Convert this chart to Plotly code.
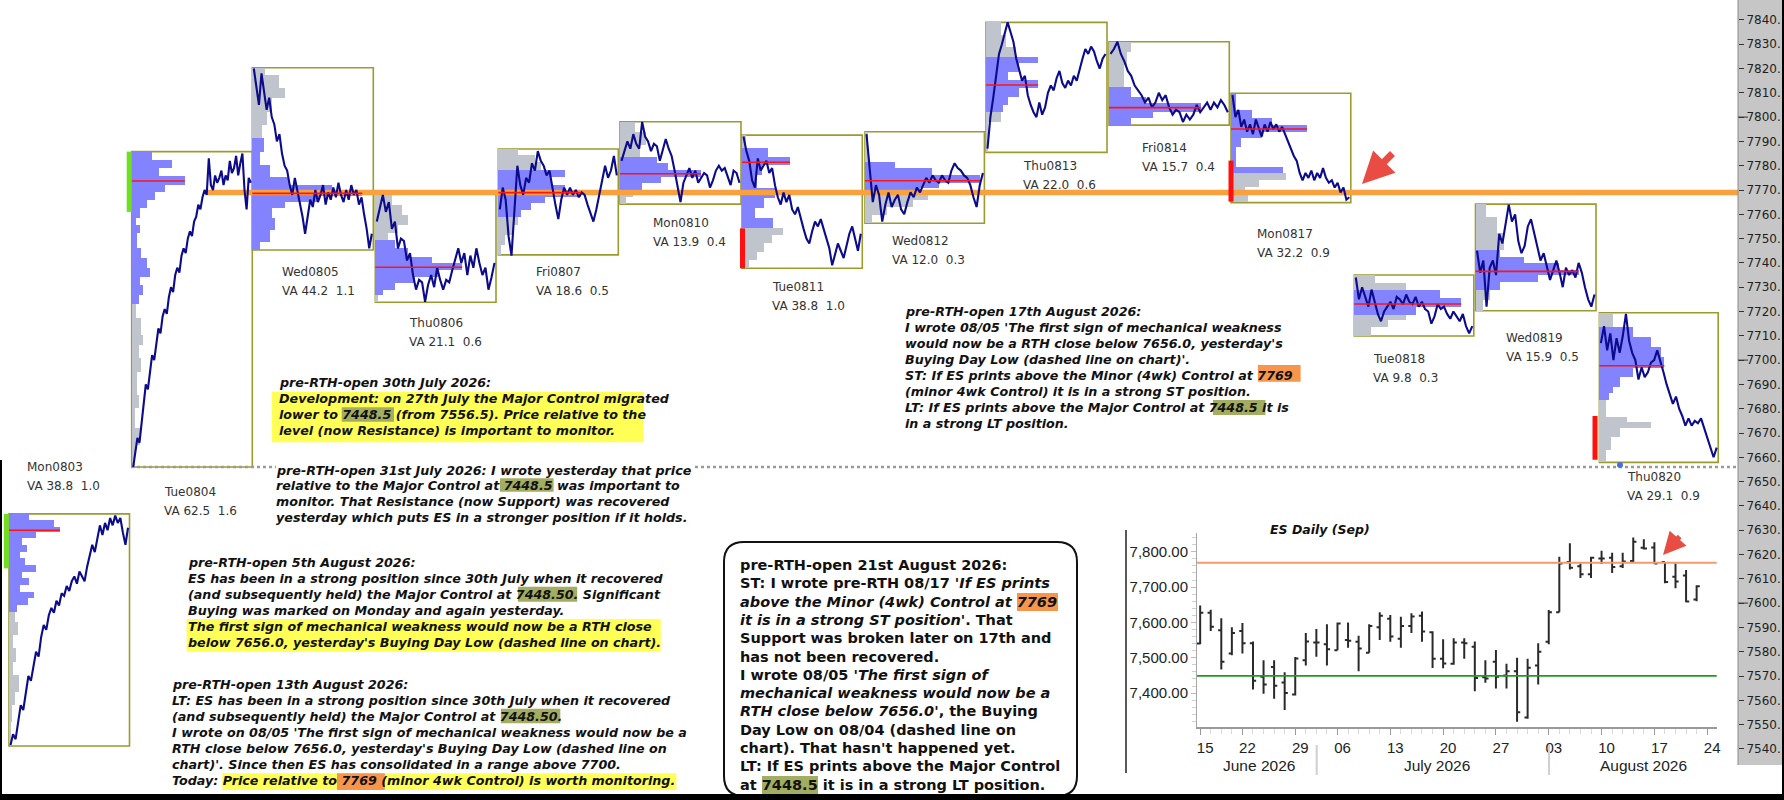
import numpy as np
import plotly.graph_objects as go

W, H = 1784, 800
PLOT_R = 1738


def px(x):
    return x / W


def py(y):
    return 1 - y / H


# ---------------------------------------------------------------- data
sessions = ["Mon0803", "Tue0804", "Wed0805", "Thu0806", "Fri0807", "Mon0810", "Tue0811",
            "Wed0812", "Thu0813", "Fri0814", "Mon0817", "Tue0818", "Wed0819", "Thu0820"]
va_stats = ["VA 38.8  1.0", "VA 62.5  1.6", "VA 44.2  1.1", "VA 21.1  0.6", "VA 18.6  0.5",
            "VA 13.9  0.4", "VA 38.8  1.0", "VA 12.0  0.3", "VA 22.0  0.6", "VA 15.7  0.4",
            "VA 32.2  0.9", "VA 9.8  0.3", "VA 15.9  0.5", "VA 29.1  0.9"]
session_high = [7636.7, 7785.8, 7820.3, 7768.6, 7786.9, 7798.1, 7792.6, 7794.0, 7839.0, 7831.0,
                7809.8, 7735.0, 7764.2, 7719.5]
session_low = [7541.2, 7656.0, 7745.3, 7723.8, 7743.3, 7764.2, 7737.8, 7756.3, 7785.5, 7796.7,
               7764.8, 7709.9, 7720.3, 7657.9]
poc_price = [7630.0, 7773.7, 7768.6, 7738.2, 7768.9, 7776.7, 7781.4, 7773.8, 7813.2, 7803.9,
             7795.1, 7723.1, 7736.5, 7697.7]
va_low = [7597.5, 7723.4, 7745.3, 7726.5, 7759.0, 7770.0, 7754.2, 7768.6, 7802.2, 7796.7,
          7776.9, 7718.6, 7728.9, 7683.6]
va_high = [7636.7, 7785.8, 7791.3, 7749.4, 7778.2, 7783.7, 7787.1, 7781.6, 7824.9, 7812.5,
           7809.8, 7728.9, 7745.3, 7713.8]

price_0803 = [7541.6, 7546, 7544, 7552, 7558, 7556, 7563, 7570, 7568, 7575, 7580, 7578, 7586, 7591,
              7589, 7595, 7598, 7596, 7601, 7599, 7604, 7603, 7607, 7605, 7609, 7611, 7608, 7613,
              7611, 7609, 7615, 7620, 7624, 7621, 7627, 7632, 7628, 7633, 7630, 7635, 7632, 7636,
              7633, 7635, 7629, 7624, 7631]
price_0804 = [7656, 7662, 7668, 7666, 7675, 7683, 7690, 7688, 7695, 7702, 7700, 7707, 7713, 7711,
              7718, 7721, 7719, 7726, 7730, 7728, 7735, 7738, 7736, 7743, 7746, 7744, 7750, 7753,
              7751, 7757, 7759, 7764, 7762, 7767, 7770, 7768, 7783, 7772, 7770, 7776, 7773, 7775,
              7778, 7772, 7776, 7774, 7782, 7777, 7779, 7784, 7776, 7781, 7785, 7770, 7762, 7775,
              7773]
price_0805 = [7820, 7812, 7805, 7818, 7810, 7803, 7808, 7800, 7797, 7790, 7793, 7785, 7780, 7778,
              7772, 7768, 7775, 7770, 7765, 7759, 7752, 7760, 7766, 7763, 7770, 7765, 7768, 7772,
              7764, 7769, 7766, 7771, 7767, 7773, 7768, 7765, 7770, 7766, 7772, 7768, 7770, 7764,
              7767, 7760, 7754, 7746, 7752]
price_0806 = [7757, 7762, 7768, 7761, 7765, 7754, 7757, 7746, 7750, 7749, 7741, 7744, 7735, 7729,
              7733, 7732, 7724, 7731, 7735, 7730, 7738, 7733, 7729, 7733, 7732, 7737, 7741, 7746,
              7740, 7744, 7735, 7743, 7738, 7746, 7740, 7735, 7738, 7729, 7734, 7740]
price_0807 = [7762, 7771, 7766, 7751, 7743, 7760, 7780, 7772, 7768, 7775, 7773, 7781, 7778, 7786,
              7782, 7780, 7776, 7778, 7770, 7764, 7758, 7766, 7771, 7768, 7771, 7768, 7770, 7767,
              7769, 7768, 7764, 7760, 7757, 7762, 7768, 7775, 7780, 7775, 7778, 7784, 7776]
price_0810 = [7782, 7786, 7790, 7787, 7793, 7789, 7787, 7798, 7792, 7790, 7786, 7789, 7788, 7782,
              7786, 7791, 7787, 7784, 7778, 7772, 7765, 7773, 7776, 7779, 7775, 7778, 7773, 7775,
              7777, 7776, 7771, 7774, 7778, 7780, 7778, 7779, 7775, 7772, 7778, 7777, 7773]
price_0811 = [7792, 7786, 7782, 7774, 7771, 7783, 7778, 7780, 7782, 7777, 7779, 7772, 7767, 7764,
              7769, 7765, 7768, 7762, 7760, 7763, 7758, 7754, 7750, 7748, 7753, 7757, 7755, 7758,
              7754, 7750, 7746, 7739, 7744, 7748, 7745, 7742, 7747, 7752, 7755, 7750, 7745, 7752]
price_0812 = [7793, 7778, 7765, 7772, 7768, 7757, 7764, 7769, 7763, 7766, 7768, 7762, 7760, 7765,
              7769, 7767, 7771, 7769, 7772, 7775, 7773, 7776, 7774, 7773, 7776, 7774, 7773, 7778,
              7781, 7779, 7778, 7776, 7775, 7772, 7767, 7763, 7772, 7777]
price_0813 = [7787, 7800, 7808, 7818, 7826, 7830, 7834, 7839, 7835, 7831, 7824, 7820, 7815, 7817,
              7809, 7805, 7802, 7800, 7806, 7801, 7804, 7810, 7813, 7811, 7816, 7819, 7814, 7812,
              7815, 7813, 7817, 7815, 7820, 7824, 7828, 7826, 7829, 7827, 7823, 7820, 7824, 7826]
price_0814 = [7826, 7828, 7831, 7826, 7823, 7819, 7817, 7813, 7811, 7809, 7806, 7808, 7804, 7806,
              7810, 7807, 7809, 7804, 7801, 7803, 7802, 7798, 7801, 7799, 7801, 7805, 7802, 7804,
              7806, 7803, 7806, 7804, 7807, 7805, 7802]
price_0817 = [7809, 7800, 7803, 7796, 7799, 7794, 7797, 7793, 7799, 7795, 7792, 7797, 7794, 7798,
              7795, 7797, 7794, 7796, 7793, 7790, 7787, 7784, 7782, 7777, 7774, 7777, 7775, 7778,
              7774, 7777, 7775, 7779, 7775, 7773, 7774, 7771, 7773, 7769, 7771, 7766, 7767]
price_0818 = [7734, 7725, 7730, 7726, 7722, 7729, 7724, 7719, 7716, 7720, 7722, 7724, 7721, 7726,
              7725, 7723, 7727, 7724, 7723, 7726, 7722, 7724, 7721, 7720, 7715, 7718, 7723, 7721,
              7722, 7719, 7717, 7720, 7718, 7716, 7719, 7714, 7711, 7714]
price_0819 = [7745, 7736, 7741, 7722, 7738, 7741, 7735, 7752, 7748, 7756, 7764, 7757, 7760, 7749,
              7744, 7747, 7755, 7758, 7752, 7747, 7741, 7744, 7738, 7733, 7737, 7741, 7736, 7730,
              7738, 7735, 7737, 7734, 7740, 7736, 7730, 7725, 7722, 7727]
price_0820 = [7707, 7714, 7704, 7711, 7700, 7709, 7703, 7710, 7719, 7708, 7703, 7700, 7692, 7697,
              7693, 7695, 7699, 7700, 7704, 7700, 7695, 7690, 7686, 7682, 7685, 7680, 7677, 7673,
              7676, 7673, 7675, 7674, 7676, 7672, 7669, 7665, 7660, 7664]
intraday = [price_0803, price_0804, price_0805, price_0806, price_0807, price_0810, price_0811,
            price_0812, price_0813, price_0814, price_0817, price_0818, price_0819, price_0820]

# volume profiles: price bin edges (ascending) and volume per bin
edges_0803 = [7541.6, 7551.2, 7558.1, 7563.6, 7570.4, 7575.9, 7581.4, 7586.9, 7592.4, 7596.5, 7599.2,
              7602.0, 7604.7, 7607.5, 7610.2, 7612.9, 7615.7, 7618.4, 7621.2, 7623.9, 7626.7, 7629.1,
              7631.5, 7634.2, 7636.7]
vol_0803 = [1.5, 3, 6, 10, 4, 7, 4, 9, 6, 8, 19, 25, 11, 20, 13, 27, 16, 11, 18, 13, 27, 51, 45, 20]
edges_0804 = [7656.0, 7665.1, 7671.9, 7680.2, 7685.6, 7695.2, 7700.7, 7706.2, 7710.3, 7717.2, 7722.9,
              7726.8, 7730.9, 7734.3, 7737.8, 7741.9, 7746.0, 7752.2, 7755.6, 7758.4, 7762.5, 7765.9,
              7769.3, 7772.1, 7775.9, 7778.9, 7782.4, 7785.8]
vol_0804 = [3, 8, 3, 7, 5, 9, 7, 11, 9, 4, 7, 11, 8, 18, 15, 9, 5, 8, 4, 8, 15, 23, 33, 53, 27, 40, 20]
edges_0805 = [7745.3, 7748.8, 7753.6, 7758.4, 7762.5, 7765.2, 7767.7, 7770.0, 7772.1, 7775.5, 7780.3,
              7785.8, 7791.3, 7796.8, 7802.2, 7807.7, 7811.9, 7817.3, 7820.3]
vol_0805 = [8, 18, 23, 20, 33, 67, 110, 80, 37, 18, 8, 12, 10, 15, 20, 33, 27, 13]
edges_0806 = [7723.8, 7726.8, 7728.8, 7731.6, 7734.3, 7737.1, 7739.8, 7742.6, 7746.0, 7749.4, 7752.2,
              7755.6, 7759.7, 7763.8, 7768.6]
vol_0806 = [3, 8, 20, 40, 63, 87, 57, 33, 20, 13, 23, 33, 27, 17]
edges_0807 = [7743.3, 7747.4, 7751.5, 7755.6, 7759.0, 7761.8, 7764.5, 7767.3, 7770.0, 7772.1, 7775.5,
              7778.2, 7781.7, 7784.4, 7786.9]
vol_0807 = [3, 7, 15, 20, 23, 33, 47, 83, 67, 53, 67, 43, 37, 20]
edges_0810 = [7764.2, 7767.3, 7770.0, 7772.7, 7775.5, 7778.2, 7781.0, 7783.7, 7788.5, 7794.0, 7798.1]
vol_0810 = [6, 13, 22, 41, 81, 48, 37, 20, 26, 15]
edges_0811 = [7737.8, 7741.2, 7744.6, 7748.1, 7751.5, 7754.2, 7758.4, 7762.5, 7766.6, 7770.7, 7776.2,
              7780.3, 7783.7, 7787.1, 7792.6]
vol_0811 = [7, 15, 22, 30, 41, 31, 13, 22, 33, 15, 20, 48, 26, 4]
edges_0812 = [7756.3, 7759.7, 7763.1, 7765.9, 7768.6, 7770.7, 7772.7, 7776.2, 7778.9, 7781.6, 7794.0]
vol_0812 = [7, 22, 48, 63, 55, 74, 115, 67, 30, 3]
edges_0813 = [7785.5, 7798.1, 7802.2, 7805.0, 7808.4, 7811.8, 7815.3, 7818.7, 7822.1, 7824.9, 7829.0,
              7833.8, 7839.0]
vol_0813 = [1.5, 15, 17, 22, 33, 52, 22, 33, 52, 30, 20, 15]
edges_0814 = [7796.7, 7799.5, 7802.2, 7805.7, 7808.4, 7812.5, 7821.4, 7826.9, 7831.0]
vol_0814 = [22, 44, 92, 37, 22, 15, 18, 22]
edges_0817 = [7765.2, 7768.6, 7771.4, 7774.1, 7776.9, 7779.6, 7787.8, 7791.3, 7794.0, 7796.8, 7799.5,
              7802.9, 7809.8]
vol_0817 = [17, 14, 28, 55, 52, 5, 10, 31, 76, 41, 21, 5]
edges_0818 = [7709.9, 7713.8, 7716.5, 7718.6, 7722.0, 7725.4, 7728.9, 7731.6, 7735.0]
vol_0818 = [17, 34, 52, 62, 107, 86, 52, 21]
edges_0819 = [7720.3, 7724.7, 7728.9, 7732.3, 7735.0, 7737.1, 7739.8, 7742.6, 7745.3, 7752.2, 7759.0,
              7764.2]
vol_0819 = [7, 14, 24, 62, 103, 83, 48, 24, 28, 21, 10]
edges_0820 = [7657.9, 7663.0, 7668.5, 7671.9, 7674.7, 7676.7, 7683.6, 7686.3, 7689.1, 7693.2, 7696.6,
              7701.4, 7705.5, 7709.6, 7713.8, 7719.5]
vol_0820 = [7, 12, 21, 52, 28, 7, 10, 14, 21, 34, 65, 62, 52, 34, 14]
profile_edges = [edges_0803, edges_0804, edges_0805, edges_0806, edges_0807, edges_0810, edges_0811,
                 edges_0812, edges_0813, edges_0814, edges_0817, edges_0818, edges_0819, edges_0820]
profile_volume = [vol_0803, vol_0804, vol_0805, vol_0806, vol_0807, vol_0810, vol_0811,
                  vol_0812, vol_0813, vol_0814, vol_0817, vol_0818, vol_0819, vol_0820]

# single-print / range markers
mark_session = [0, 1, 6, 10, 13]
mark_low = [7614.3, 7761.0, 7737.8, 7765.2, 7659.0]
mark_high = [7636.7, 7785.8, 7754.2, 7782.1, 7677.0]
mark_kind = ["buy", "buy", "sell", "sell", "sell"]

minor_control = 7769.0
major_control = 7448.5
buying_day_low = 7656.0
settle_mark = 7656.8

# price-axis ticks
price_ticks = list(range(7540, 7841, 10))
price_tick_text = [f"{v}." for v in price_ticks]

# daily bars (ES Sep)
daily_dates = ["06-15", "06-16", "06-17", "06-18", "06-22", "06-23", "06-24", "06-25", "06-26",
               "06-29", "06-30", "07-01", "07-02", "07-06", "07-07", "07-08", "07-09", "07-10",
               "07-13", "07-14", "07-15", "07-16", "07-17", "07-20", "07-21", "07-22", "07-23",
               "07-24", "07-27", "07-28", "07-29", "07-30", "07-31", "08-03", "08-04", "08-05",
               "08-06", "08-07", "08-10", "08-11", "08-12", "08-13", "08-14", "08-17", "08-18",
               "08-19", "08-20", "08-21"]
daily_open = [7540, 7627, 7578, 7512, 7576, 7541, 7446, 7474, 7430, 7396, 7493, 7543, 7538, 7521,
              7550, 7545, 7514, 7586, 7610, 7554, 7590, 7619, 7572, 7497, 7483, 7543, 7531, 7445,
              7489, 7450, 7462, 7331, 7478, 7545, 7629, 7771, 7759, 7736, 7781, 7783, 7759, 7774,
              7811, 7812, 7771, 7729, 7733, 7665]
daily_high = [7648, 7636, 7612, 7586, 7598, 7546, 7493, 7493, 7459, 7502, 7570, 7581, 7595, 7600,
              7600, 7562, 7595, 7629, 7621, 7616, 7626, 7631, 7575, 7552, 7555, 7555, 7546, 7493,
              7522, 7483, 7500, 7497, 7541, 7635, 7786, 7824, 7767, 7786, 7803, 7797, 7797, 7840,
              7835, 7827, 7771, 7767, 7748, 7705]
daily_low = [7538, 7576, 7467, 7507, 7512, 7410, 7398, 7384, 7352, 7393, 7478, 7503, 7478, 7521,
             7528, 7462, 7514, 7550, 7545, 7528, 7570, 7545, 7471, 7470, 7480, 7497, 7405, 7429,
             7413, 7413, 7319, 7327, 7424, 7538, 7629, 7750, 7726, 7726, 7765, 7740, 7754, 7769,
             7806, 7765, 7711, 7697, 7657, 7660]
daily_close = [7627, 7588, 7489, 7570, 7541, 7435, 7424, 7421, 7400, 7498, 7546, 7543, 7524, 7597,
               7548, 7526, 7590, 7619, 7560, 7590, 7617, 7574, 7497, 7484, 7543, 7541, 7443, 7441,
               7446, 7462, 7346, 7472, 7517, 7629, 7767, 7755, 7736, 7783, 7781, 7757, 7772, 7828,
               7809, 7767, 7714, 7716, 7659, 7702]
week_dates = ["06-15", "06-22", "06-29", "07-06", "07-13", "07-20", "07-27", "08-03", "08-10",
              "08-17", "08-24"]
week_labels = ["15", "22", "29", "06", "13", "20", "27", "03", "10", "17", "24"]
month_labels = ["June 2026", "July 2026", "August 2026"]
daily_ticks = [7400, 7500, 7600, 7700, 7800]

# ---------------------------------------------------------------- layout constants
box_x0 = [9, 131.7, 252.3, 375.3, 498.3, 620, 742, 865, 986, 1109, 1231, 1354.3, 1475.5, 1599.4]
box_x1 = [129.5, 252.3, 373.3, 496, 618.3, 741, 862.3, 984.4, 1107, 1229.3, 1350.8, 1473.8, 1596,
          1718.2]
label_x = [25, 162, 280, 407, 534, 651, 770, 890, 1021, 1140, 1255, 1371, 1504, 1625]
label_y = [467, 492, 272, 323, 272, 223, 287, 241, 166, 148, 234, 359, 338, 477]
mark_xc = [6.3, 129.2, 742.5, 1231, 1595]

BOX_C = "#9b9b30"
BLUE_P = "#8383ff"
GREY_P = "#c0c4cc"
PRICE_C = "#0b0b8c"
POC_C = "#ff1414"
ORANGE = "#f9a03f"
TXT = 12.7
FONT = "DejaVu Sans"

fig = go.Figure()
shapes = []
annotations = []

# profiles
for i in range(len(sessions)):
    e = np.array(profile_edges[i], dtype=float)
    centers = (e[:-1] + e[1:]) / 2
    thick = np.diff(e)
    cols = [BLUE_P if va_low[i] <= c <= va_high[i] else GREY_P for c in centers]
    fig.add_trace(go.Bar(orientation="h", y=centers, x=profile_volume[i], base=box_x0[i],
                         width=thick, marker=dict(color=cols, line=dict(width=0)),
                         xaxis="x", yaxis="y", hoverinfo="skip"))

# minor control line and buying-day-low line
fig.add_trace(go.Scatter(x=[207, PLOT_R], y=[minor_control, minor_control], mode="lines",
                         line=dict(color=ORANGE, width=5.5), hoverinfo="skip"))
fig.add_trace(go.Scatter(x=[131, PLOT_R], y=[buying_day_low, buying_day_low], mode="lines",
                         line=dict(color="#9a9a9a", width=2.5, dash="dot"), hoverinfo="skip"))

# boxes, price paths, POC
for i in range(len(sessions)):
    shapes.append(dict(type="rect", xref="x", yref="y", x0=box_x0[i], x1=box_x1[i],
                       y0=session_low[i], y1=session_high[i],
                       line=dict(color=BOX_C, width=1.6), layer="below"))
    p = intraday[i]
    xs = np.linspace(box_x0[i] + 1.5, box_x1[i] - 1.5, len(p))
    fig.add_trace(go.Scatter(x=xs, y=p, mode="lines", line=dict(color=PRICE_C, width=2.1),
                             hoverinfo="skip"))
    fig.add_trace(go.Scatter(x=[box_x0[i], box_x0[i] + max(profile_volume[i])],
                             y=[poc_price[i], poc_price[i]], mode="lines",
                             line=dict(color=POC_C, width=1.6), hoverinfo="skip"))
    annotations.append(dict(x=px(label_x[i]), y=py(label_y[i]), xref="paper", yref="paper",
                            text=sessions[i], showarrow=False, xanchor="left", yanchor="middle",
                            font=dict(family=FONT, size=12, color="#333")))
    annotations.append(dict(x=px(label_x[i]), y=py(label_y[i] + 19), xref="paper", yref="paper",
                            text=va_stats[i].replace("  ", " \u00a0"), showarrow=False,
                            xanchor="left", yanchor="middle",
                            font=dict(family=FONT, size=12, color="#333")))

for k in range(len(mark_session)):
    col = "#6ee01e" if mark_kind[k] == "buy" else "#ff1010"
    fig.add_trace(go.Scatter(x=[mark_xc[k], mark_xc[k]], y=[mark_low[k], mark_high[k]],
                             mode="lines", line=dict(color=col, width=5), hoverinfo="skip"))

# small settlement marker under the last session
fig.add_trace(go.Scatter(x=[1620], y=[settle_mark], mode="markers",
                         marker=dict(color="#4b6fd6", size=6), hoverinfo="skip"))

# daily inset
fig.add_trace(go.Ohlc(x=list(range(len(daily_dates))), open=daily_open, high=daily_high,
                      low=daily_low, close=daily_close, xaxis="x2", yaxis="y2",
                      increasing=dict(line=dict(color="#2a2a2a", width=2)),
                      decreasing=dict(line=dict(color="#2a2a2a", width=2)),
                      tickwidth=0.3, hoverinfo="skip"))
week_pos = [daily_dates.index(d) if d in daily_dates else len(daily_dates) for d in week_dates]

# --- decorations: right price-axis band
shapes.append(dict(type="rect", xref="paper", yref="paper", x0=px(PLOT_R), x1=1, y0=py(765),
                   y1=1, fillcolor="#c6c6c6", line=dict(width=0), layer="below"))
shapes.append(dict(type="line", xref="paper", yref="paper", x0=px(PLOT_R), x1=px(PLOT_R),
                   y0=py(765), y1=1, line=dict(color="#8a8a8a", width=1)))
for v in [7600, 7700, 7800]:
    shapes.append(dict(type="line", xref="paper", yref="y", x0=px(PLOT_R), x1=px(PLOT_R + 10),
                       y0=v, y1=v, line=dict(color="#333", width=1)))
# black frame strips at the image edges
shapes.append(dict(type="rect", xref="paper", yref="paper", x0=0, x1=1, y0=0, y1=py(794),
                   fillcolor="#000", line=dict(width=0)))
shapes.append(dict(type="rect", xref="paper", yref="paper", x0=px(1782), x1=1, y0=0, y1=1,
                   fillcolor="#000", line=dict(width=0)))
shapes.append(dict(type="rect", xref="paper", yref="paper", x0=0, x1=px(2), y0=0, y1=py(460),
                   fillcolor="#000", line=dict(width=0)))

# inset lines
ix0, ix1 = 1197, 1716.7
shapes.append(dict(type="line", xref="paper", yref="y2", x0=px(ix0), x1=px(ix1),
                   y0=minor_control, y1=minor_control, line=dict(color="#f49a6c", width=2)))
shapes.append(dict(type="line", xref="paper", yref="y2", x0=px(ix0), x1=px(ix1),
                   y0=major_control, y1=major_control, line=dict(color="#229a22", width=1.8)))
shapes.append(dict(type="line", xref="paper", yref="paper", x0=px(1126), x1=px(1126),
                   y0=py(530), y1=py(773), line=dict(color="#222", width=1.5)))
for sx in [1316.7, 1549]:
    shapes.append(dict(type="line", xref="paper", yref="paper", x0=px(sx), x1=px(sx),
                       y0=py(745), y1=py(775), line=dict(color="#d0d0d0", width=2)))
for lbl, cx in zip(month_labels, [1258.8, 1436.5, 1643.7]):
    annotations.append(dict(x=px(cx), y=py(765), xref="paper", yref="paper", text=lbl,
                            showarrow=False, xanchor="center", yanchor="middle",
                            font=dict(family="Liberation Sans", size=15.5, color="#222")))
annotations.append(dict(x=px(1320), y=py(529), xref="paper", yref="paper",
                        text="<b><i>ES Daily (Sep)</i></b>", showarrow=False, xanchor="center",
                        yanchor="middle", font=dict(family=FONT, size=12.5, color="#111")))

# arrows
annotations.append(dict(x=px(1362), y=py(184), xref="paper", yref="paper", text="", showarrow=True,
                        ax=32, ay=-32, arrowhead=2, arrowsize=0.9, arrowwidth=7,
                        arrowcolor="#e84c42", standoff=0))
annotations.append(dict(x=px(1663), y=py(555), xref="paper", yref="paper", text="", showarrow=True,
                        ax=18, ay=-20, arrowhead=2, arrowsize=0.9, arrowwidth=5,
                        arrowcolor="#e84c42", standoff=0))

# --- text highlights
YEL, OLV, ORG = "#ffff55", "#a3ad62", "#f7954a"
highlights = [(YEL, 271.7, 643, 391.7, 442.3), (OLV, 341.7, 394, 407.3, 421.7),
              (OLV, 500, 553.6, 478.3, 491.7), (OLV, 517.9, 577.2, 586.7, 601.7),
              (YEL, 186.6, 660.7, 619, 651.7), (OLV, 500.9, 560.3, 708.7, 723.3),
              (YEL, 222.3, 676.3, 773.3, 790), (ORG, 337, 384.8, 773.3, 790),
              (ORG, 1257.9, 1300.6, 365, 381.7), (OLV, 1213, 1265.4, 400, 415),
              (ORG, 1017, 1058, 593, 611), (OLV, 762, 818, 776, 794)]
for c, x0, x1, y0, y1 in highlights:
    shapes.append(dict(type="rect", xref="paper", yref="paper", x0=px(x0), x1=px(x1),
                       y0=py(y1), y1=py(y0), fillcolor=c, line=dict(width=0), layer="below"))

# rounded comment box
bx0, bx1, by0, by1, r = 724, 1077, 542, 796, 20


def P(x, y):
    return f"{px(x):.5f},{py(y):.5f}"


path = (f"M {P(bx0 + r, by0)} L {P(bx1 - r, by0)} Q {P(bx1, by0)} {P(bx1, by0 + r)} "
        f"L {P(bx1, by1 - r)} Q {P(bx1, by1)} {P(bx1 - r, by1)} L {P(bx0 + r, by1)} "
        f"Q {P(bx0, by1)} {P(bx0, by1 - r)} L {P(bx0, by0 + r)} Q {P(bx0, by0)} {P(bx0 + r, by0)} Z")
shapes.insert(0, dict(type="path", xref="paper", yref="paper", path=path, fillcolor="white",
                      line=dict(color="#111", width=2), layer="below"))


def add_block(x, y0, step, lines, size, wrap=True, first_bg=None):
    for k, t in enumerate(lines):
        html = f"<b><i>{t}</i></b>" if wrap else f"<b>{t}</b>"
        annotations.append(dict(x=px(x), y=py(y0 + k * step), xref="paper", yref="paper",
                                text=html, showarrow=False, xanchor="left", yanchor="middle",
                                align="left", borderpad=0, borderwidth=0,
                                bgcolor=first_bg if (k == 0 and first_bg) else "rgba(0,0,0,0)",
                                font=dict(family=FONT, size=size, color="#111")))


add_block(279, 382.7, 16, [
    "pre-RTH-open 30th July 2026:",
    "Development: on 27th July the Major Control migrated",
    "lower to 7448.5 (from 7556.5). Price relative to the",
    "level (now Resistance) is important to monitor."], TXT)
add_block(276, 470, 15.9, [
    "pre-RTH-open 31st July 2026: I wrote yesterday that price",
    "relative to the Major Control at 7448.5 was important to",
    "monitor. That Resistance (now Support) was recovered",
    "yesterday which puts ES in a stronger position if it holds."], TXT, first_bg="white")
add_block(188.4, 562.3, 16, [
    "pre-RTH-open 5th August 2026:",
    "ES has been in a strong position since 30th July when it recovered",
    "(and subsequently held) the Major Control at 7448.50. Significant",
    "Buying was marked on Monday and again yesterday.",
    "The first sign of mechanical weakness would now be a RTH close",
    "below 7656.0, yesterday's Buying Day Low (dashed line on chart)."], TXT)
add_block(171.9, 684.3, 16, [
    "pre-RTH-open 13th August 2026:",
    "LT: ES has been in a strong position since 30th July when it recovered",
    "(and subsequently held) the Major Control at 7448.50.",
    "I wrote on 08/05 'The first sign of mechanical weakness would now be a",
    "RTH close below 7656.0, yesterday's Buying Day Low (dashed line on",
    "chart)'. Since then ES has consolidated in a range above 7700.",
    "Today: Price relative to 7769 (minor 4wk Control) is worth monitoring."], TXT)
add_block(905, 311.7, 16, [
    "pre-RTH-open 17th August 2026:",
    "I wrote 08/05 'The first sign of mechanical weakness",
    "would now be a RTH close below 7656.0, yesterday's",
    "Buying Day Low (dashed line on chart)'.",
    "ST: If ES prints above the Minor (4wk) Control at 7769",
    "(minor 4wk Control) it is in a strong ST position.",
    "LT: If ES prints above the Major Control at 7448.5 it is",
    "in a strong LT position."], TXT)
add_block(740, 565, 18.3, [
    "pre-RTH-open 21st August 2026:",
    "ST: I wrote pre-RTH 08/17 <i>'If ES prints</i>",
    "<i>above the Minor (4wk) Control at 7769</i>",
    "<i>it is in a strong ST position'</i>. That",
    "Support was broken later on 17th and",
    "has not been recovered.",
    "I wrote 08/05 <i>'The first sign of</i>",
    "<i>mechanical weakness would now be a</i>",
    "<i>RTH close below 7656.0'</i>, the Buying",
    "Day Low on 08/04 (dashed line on",
    "chart). That hasn't happened yet.",
    "LT: If ES prints above the Major Control",
    "at 7448.5 it is in a strong LT position."], 14.5, wrap=False)

fig.update_layout(
    width=W, height=H, margin=dict(l=0, r=0, t=0, b=0), paper_bgcolor="white",
    plot_bgcolor="white", showlegend=False, barmode="overlay", bargap=0,
    font=dict(family=FONT),
    xaxis=dict(domain=[0, px(PLOT_R)], range=[0, PLOT_R], visible=False, fixedrange=True),
    yaxis=dict(domain=[0, 1], range=[7518.97, 7848.19], side="right", anchor="x",
               tickvals=price_ticks, ticktext=price_tick_text,
               ticks="outside", ticklen=5, tickcolor="#333", showgrid=False, zeroline=False,
               showline=False, automargin=False,
               tickfont=dict(family=FONT, size=12, color="#1e1e1e")),
    xaxis2=dict(domain=[px(ix0), px(ix1)], anchor="y2", range=[-0.3, 48.9],
                tickvals=week_pos, ticktext=week_labels, ticks="outside", ticklen=6,
                tickcolor="#999", showline=True, linecolor="#9a9a9a", linewidth=1.5,
                showgrid=False, zeroline=False, rangeslider=dict(visible=False),
                minor=dict(dtick=1, tick0=0, ticklen=5, tickcolor="#dadada", ticks="outside"),
                tickfont=dict(family="Liberation Sans", size=15, color="#222"),
                ticklabelshift=5, automargin=False),
    yaxis2=dict(domain=[py(727), py(533)], anchor="x2", range=[7304, 7853],
                tickvals=daily_ticks, ticktext=[f"{v:,.2f}" for v in daily_ticks],
                ticks="outside", ticklen=5, tickcolor="#bbb", showline=True, linecolor="#a8a8a8",
                showgrid=False, zeroline=False,
                minor=dict(dtick=20, ticklen=4, tickcolor="#cfcfcf", ticks="outside"),
                tickfont=dict(family="Liberation Sans", size=15, color="#222"), automargin=False),
    shapes=shapes, annotations=annotations,
)

fig.write_html("out.html", config={"displayModeBar": False},
               post_script="document.body.style.margin='0px';document.body.style.overflow='hidden';")
